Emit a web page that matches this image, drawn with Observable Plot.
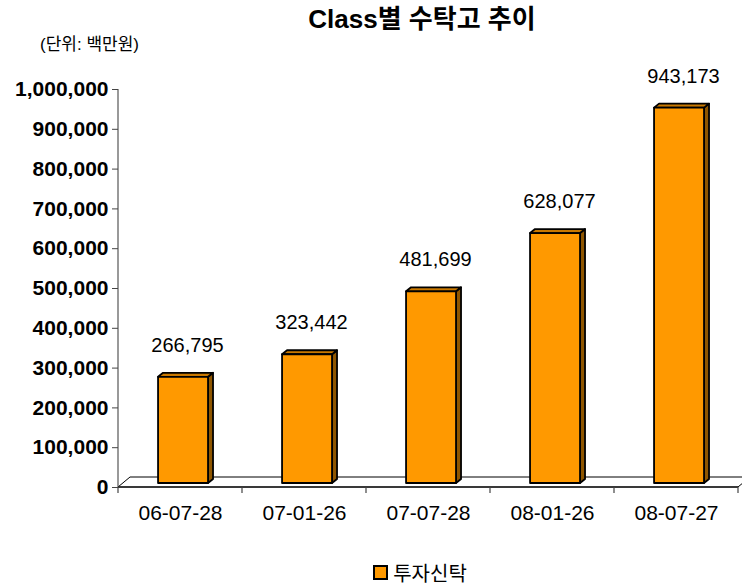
<!DOCTYPE html>
<html>
<head>
<meta charset="utf-8">
<script src="https://cdn.jsdelivr.net/npm/d3@7"></script>
<script src="https://cdn.jsdelivr.net/npm/@observablehq/plot@0.6"></script>
<style>
  html, body { margin: 0; padding: 0; background: #fff; }
  #wrap { position: relative; width: 742px; height: 587px; overflow: hidden;
          font-family: "Liberation Sans", Arial, "Noto Sans CJK KR", sans-serif; }
  #title { position: absolute; left: 0; width: 844px; top: 4px; text-align: center;
           font-size: 26px; font-weight: bold; color: #000; line-height: 30px; }
  #sub { position: absolute; left: 40px; top: 35px; font-size: 17px; color: #000; line-height: 20px; }
  #legend { position: absolute; left: 0; width: 840px; top: 563px; text-align: center;
            font-size: 20px; line-height: 22px; color: #000; display: block; }
  #legend .sw { display: inline-block; width: 11px; height: 11px; background: #FF9900;
                border: 2px solid #000; margin-right: 5px; vertical-align: 1px; }
  #chart { position: absolute; left: 0; top: 0; }
</style>
</head>
<body>
<div id="wrap">
  <div id="chart"></div>
  <div id="title">Class별 수탁고 추이</div>
  <div id="sub">(단위: 백만원)</div>
  <div id="legend"><span class="sw"></span>투자신탁</div>
</div>
<script>
const categories = ["06-07-28", "07-01-26", "07-07-28", "08-01-26", "08-07-27"];
const values = [266795, 323442, 481699, 628077, 943173];
const seriesName = "투자신탁";
const yTicks = [0, 100000, 200000, 300000, 400000, 500000, 600000, 700000, 800000, 900000, 1000000];

const data = categories.map((c, i) => ({cat: c, value: values[i]}));
const fmt = d3.format(",");

const FRONT = "#FF9900", TOP = "#C97800", SIDE = "#8F5600";

function chart3d(index, scales, vals, dims) {
  const x = scales.x, y = scales.y;
  const bw = scales.scales.x.bandwidth;
  const g = d3.create("svg:g");
  const left = dims.marginLeft, right = dims.width - dims.marginRight;
  const y0 = y(0);
  const fdx = 12, fdy = -10;
  // floor
  g.append("path")
    .attr("d", `M${left},${y0}L${left + fdx},${y0 + fdy}L${right + fdx},${y0 + fdy}L${right},${y0}Z`)
    .attr("fill", "#fff").attr("stroke", "#000").attr("stroke-width", 1);
  // y axis line
  g.append("line").attr("x1", left).attr("x2", left)
    .attr("y1", y(1000000)).attr("y2", y0).attr("stroke", "#555").attr("stroke-width", 1.2);
  // x axis front line & category boundary ticks
  g.append("line").attr("x1", left).attr("x2", right).attr("y1", y0).attr("y2", y0)
    .attr("stroke", "#222").attr("stroke-width", 1.5);
  const bounds = categories.map(c => x(c)).concat([x(categories[categories.length - 1]) + bw]);
  bounds.forEach(b => g.append("line").attr("x1", b).attr("x2", b)
    .attr("y1", y0).attr("y2", y0 + 6).attr("stroke", "#444").attr("stroke-width", 1.2));
  // bars
  const oy = -4, dx = 5, dy = -4;
  data.forEach(d => {
    const x0 = x(d.cat) + bw * 0.323, x1 = x0 + bw * 0.403;
    const yt = y(d.value) + oy, yb = y0 + oy;
    const gb = g.append("g").attr("stroke", "#000").attr("stroke-width", 1.8).attr("stroke-linejoin", "round");
    gb.append("path").attr("fill", SIDE)
      .attr("d", `M${x1},${yt}L${x1 + dx},${yt + dy}L${x1 + dx},${yb + dy}L${x1},${yb}Z`);
    gb.append("path").attr("fill", TOP)
      .attr("d", `M${x0},${yt}L${x0 + dx},${yt + dy}L${x1 + dx},${yt + dy}L${x1},${yt}Z`);
    gb.append("rect").attr("fill", FRONT)
      .attr("x", x0).attr("y", yt).attr("width", x1 - x0).attr("height", yb - yt);
  });
  return g.node();
}

const plot = Plot.plot({
  width: 742,
  height: 587,
  marginTop: 89,
  marginBottom: 100,
  marginLeft: 118,
  marginRight: 4,
  style: {fontFamily: "'Liberation Sans', Arial, 'Noto Sans CJK KR', sans-serif", background: "transparent", overflow: "visible"},
  x: {type: "band", domain: categories, padding: 0},
  y: {domain: [0, 1000000]},
  marks: [
    chart3d,
    Plot.axisY(yTicks, {tickFormat: fmt, tickSize: 6, tickPadding: 4, fontSize: 21, fontWeight: "bold",
      stroke: "#444", fill: "#000", label: null}),
    Plot.axisX({tickSize: 0, tickPadding: 18, fontSize: 21, fill: "#000", label: null}),
    Plot.text(data, {x: "cat", y: "value", text: d => fmt(d.value), dx: 7, dy: -36,
      fontSize: 20, fill: "#000"})
  ]
});
document.getElementById("chart").appendChild(plot);
</script>
</body>
</html>
